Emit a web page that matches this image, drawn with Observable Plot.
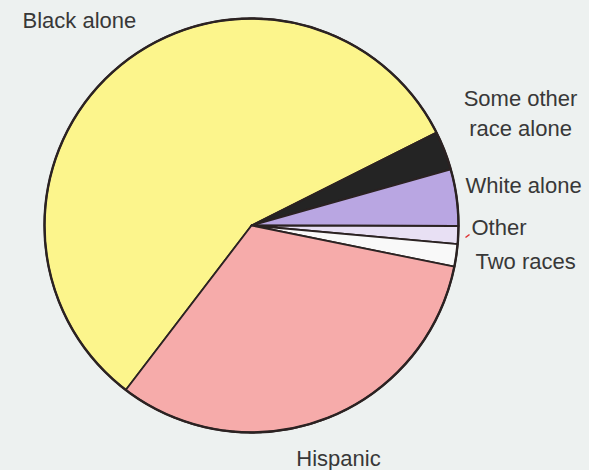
<!DOCTYPE html>
<html><head><meta charset="utf-8">
<script src="https://cdn.jsdelivr.net/npm/d3@7"></script>
<script src="https://cdn.jsdelivr.net/npm/@observablehq/plot@0.6"></script>
<style>html,body{margin:0;padding:0;background:#edf1f0;}</style>
</head><body><div id="chart"></div>
<script>
// ---- data ----
const categories = ["Black alone", "Some other race alone", "White alone", "Other", "Two races", "Hispanic"];
const shares = [57.2, 3.05, 4.4, 1.4, 1.75, 32.2];
const labelText = ["Black alone", "Some other\nrace alone", "White alone", "Other", "Two races", "Hispanic"];
const colors = ["#fcf58c", "#242424", "#b9a6e2", "#e8e0f4", "#f9f9f9", "#f6abaa"];

// ---- layout ----
const W = 589, H = 470, cx = 251, cy = 225, R = 207;
const startDeg = 217.4;
const a0 = startDeg * Math.PI / 180;
const arcs = d3.pie().sort(null).startAngle(a0).endAngle(a0 + 2 * Math.PI)(shares);

const verts = [];
arcs.forEach((s, i) => {
  verts.push({cat: categories[i], x: 0, y: 0});
  const n = Math.max(2, Math.ceil((s.endAngle - s.startAngle) / (Math.PI / 360)));
  for (let k = 0; k <= n; k++) {
    const a = s.startAngle + (s.endAngle - s.startAngle) * k / n;
    verts.push({cat: categories[i], x: Math.sin(a), y: Math.cos(a)});
  }
});

// label placement (pixel positions converted to unit coords)
const labelPx = [
  {px: 22, py: 18, anchor: "start"},
  {px: 520, py: 111, anchor: "middle"},
  {px: 465, py: 183, anchor: "start"},
  {px: 471, py: 225, anchor: "start"},
  {px: 475, py: 259, anchor: "start"},
  {px: 338, py: 456, anchor: "middle"}
];
const labels = labelText.map((t, i) => ({
  text: t,
  x: (labelPx[i].px - cx) / R,
  y: (cy - labelPx[i].py) / R,
  anchor: labelPx[i].anchor
}));

const chart = Plot.plot({
  width: W, height: H,
  margin: 0,
  style: {background: "#edf1f0"},
  x: {domain: [-cx / R, (W - cx) / R], range: [0, W], axis: null},
  y: {domain: [-(H - cy) / R, cy / R], range: [H, 0], axis: null},
  color: {domain: categories, range: colors},
  marks: [
    Plot.line(verts, {x: "x", y: "y", z: "cat", fill: "cat", stroke: "#2b2222", strokeWidth: 1.8, curve: "linear-closed", strokeLinejoin: "round"}),
    Plot.dot([{x: 0, y: 0}], {x: "x", y: "y", r: R, fill: "none", stroke: "#2b2222", strokeWidth: 2.4}),
    Plot.link([{x1: (465 - cx) / R, y1: (cy - 237) / R, x2: (469 - cx) / R, y2: (cy - 234) / R}], {x1: "x1", y1: "y1", x2: "x2", y2: "y2", stroke: "#e03030", strokeWidth: 1.5}),
    ...["start", "middle"].map(anc => Plot.text(labels.filter(d => d.anchor === anc), {
      x: "x", y: "y", text: "text", textAnchor: anc, lineHeight: 1.36,
      fontSize: 22, fill: "#383838", fontFamily: "Liberation Sans, Arial, sans-serif"
    }))
  ]
});
document.getElementById("chart").appendChild(chart);
</script>
</body></html>
